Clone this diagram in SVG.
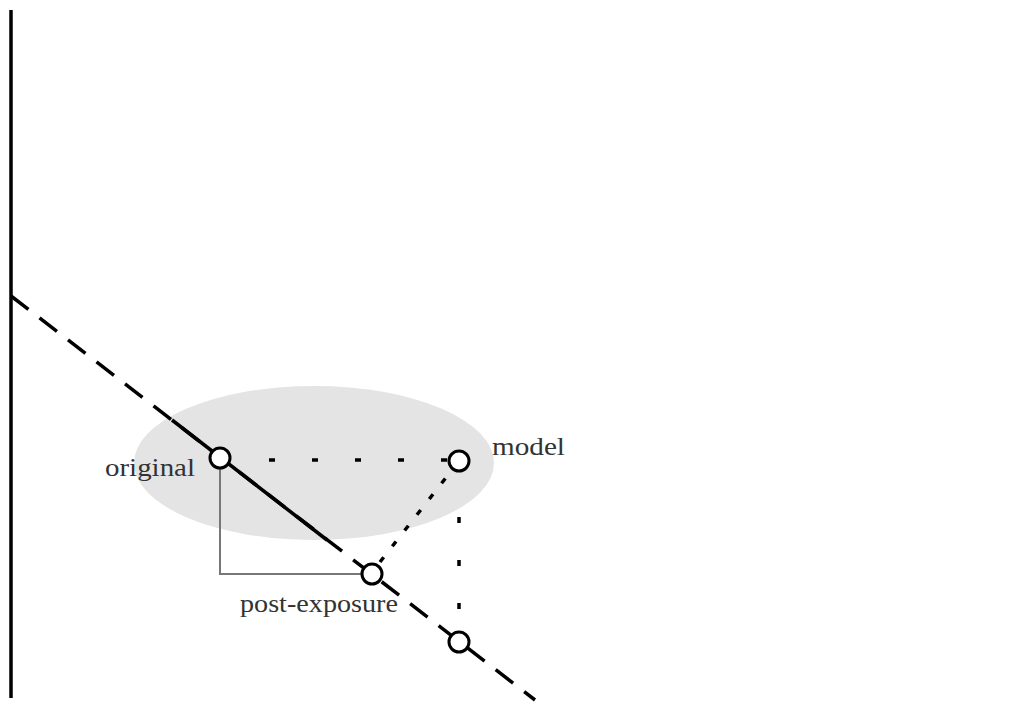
<svg xmlns="http://www.w3.org/2000/svg" width="1023" height="702" viewBox="0 0 1023 702">
<style>
.node{fill:#fff;stroke:#000;stroke-width:3}
.lbl{font-family:"Liberation Serif",serif;font-size:25px;fill:#333}
.dot{stroke:#000;stroke-width:3.5;fill:none}
</style>
<rect width="1023" height="702" fill="#fff"/>
<ellipse id="region" cx="314" cy="463" rx="180" ry="77" fill="#e4e4e4"/>
<g id="connectors">
<line x1="11" y1="10" x2="11" y2="698" stroke="#000" stroke-width="3.5"/>
<line x1="11" y1="296" x2="535" y2="700" stroke="#000" stroke-width="3.5" stroke-dasharray="22 14"/>
<line x1="172" y1="420" x2="327" y2="540" stroke="#000" stroke-width="3.5"/>
<polyline points="220,468 220,574 362,574" fill="none" stroke="#777" stroke-width="2"/>
<line class="dot" style="stroke-dasharray:6 37" x1="269" y1="460" x2="449" y2="460"/>
<line class="dot" style="stroke-dasharray:6 14" x1="380" y1="562" x2="459" y2="461"/>
<line class="dot" style="stroke-dasharray:6 37" x1="459" y1="517" x2="459" y2="632"/>
</g>
<g id="original"><circle class="node" cx="220" cy="458" r="10"/><text class="lbl" x="105" y="476" textLength="90" lengthAdjust="spacingAndGlyphs">original</text></g>
<g id="model"><circle class="node" cx="459" cy="461" r="10"/><text class="lbl" x="492" y="455" textLength="73" lengthAdjust="spacingAndGlyphs">model</text></g>
<g id="post-exposure"><circle class="node" cx="372" cy="574" r="10"/><text class="lbl" x="240" y="612" textLength="158" lengthAdjust="spacingAndGlyphs">post-exposure</text></g>
<g id="projection"><circle class="node" cx="459" cy="642" r="10"/></g>
</svg>
